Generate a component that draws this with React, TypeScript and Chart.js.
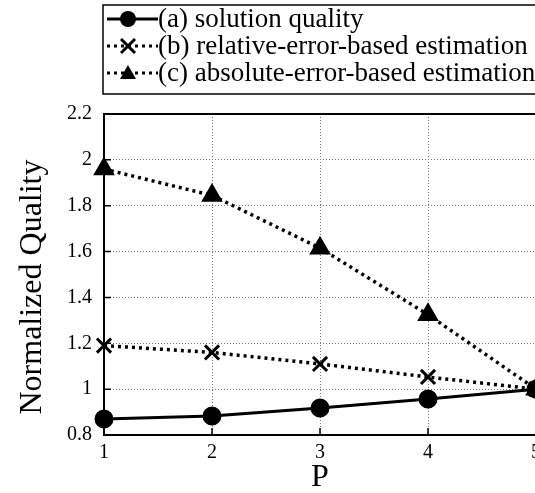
import React, { useEffect, useRef } from "react";
import { Chart, registerables } from "chart.js";

Chart.register(...registerables);

const pValues = [1, 2, 3, 4, 5];
const solutionQuality = [0.87, 0.883, 0.918, 0.957, 1.0];
const relativeEstimation = [1.19, 1.16, 1.11, 1.053, 1.0];
const absoluteEstimation = [1.96, 1.845, 1.615, 1.325, 1.0];
const legendLabels = [
  "(a) solution quality",
  "(b) relative-error-based estimation",
  "(c) absolute-error-based estimation",
];
const yTicks = [0.8, 1, 1.2, 1.4, 1.6, 1.8, 2, 2.2];
const yTitle = "Normalized Quality";
const xTitle = "P";

const FONT = "'Liberation Serif', 'Times New Roman', serif";

function drawMarker(ctx: CanvasRenderingContext2D, style: string, x: number, y: number, r: number) {
  ctx.save();
  ctx.fillStyle = "#000";
  ctx.strokeStyle = "#000";
  if (style === "circle") {
    ctx.beginPath();
    ctx.arc(x, y, r, 0, Math.PI * 2);
    ctx.fill();
  } else if (style === "crossRot") {
    ctx.lineWidth = 3;
    ctx.beginPath();
    ctx.moveTo(x - r, y - r);
    ctx.lineTo(x + r, y + r);
    ctx.moveTo(x + r, y - r);
    ctx.lineTo(x - r, y + r);
    ctx.stroke();
  } else if (style === "triangle") {
    ctx.beginPath();
    ctx.moveTo(x, y - r);
    ctx.lineTo(x + r, y + r * 0.75);
    ctx.lineTo(x - r, y + r * 0.75);
    ctx.closePath();
    ctx.fill();
  }
  ctx.restore();
}

const framePlugin = {
  id: "frame",
  afterDraw(chart: any) {
    const { ctx, chartArea } = chart;
    const { left, right, top, bottom } = chartArea;
    ctx.save();
    ctx.strokeStyle = "#000";
    ctx.lineWidth = 2;
    ctx.strokeRect(left, top, right - left, bottom - top);
    const ys = chart.scales.y;
    const xs = chart.scales.x;
    ctx.lineWidth = 1.5;
    ctx.beginPath();
    yTicks.forEach((v) => {
      const py = ys.getPixelForValue(v);
      ctx.moveTo(left, py);
      ctx.lineTo(left + 7, py);
    });
    pValues.forEach((v) => {
      const px = xs.getPixelForValue(v);
      ctx.moveTo(px, bottom);
      ctx.lineTo(px, bottom - 7);
    });
    ctx.stroke();

    // axis titles
    ctx.fillStyle = "#000";
    ctx.font = `32px ${FONT}`;
    ctx.textAlign = "center";
    ctx.textBaseline = "middle";
    ctx.save();
    ctx.translate(33, 287);
    ctx.rotate(-Math.PI / 2);
    ctx.fillText(yTitle, 0, 0);
    ctx.restore();
    ctx.fillText(xTitle, (left + right) / 2, 478);

    // legend box
    const bx = 103, by = 5, bw = 480, bh = 89;
    ctx.lineWidth = 1.5;
    ctx.strokeRect(bx, by, bw, bh);
    const rows = [19, 46, 73];
    const styles = ["circle", "crossRot", "triangle"];
    const sizes = [8, 7, 8];
    ctx.font = `27px ${FONT}`;
    ctx.textBaseline = "middle";
    ctx.textAlign = "left";
    rows.forEach((ry, i) => {
      ctx.save();
      ctx.lineWidth = 3;
      ctx.strokeStyle = "#000";
      if (i > 0) ctx.setLineDash([3, 4]);
      ctx.beginPath();
      ctx.moveTo(107, ry);
      ctx.lineTo(158, ry);
      ctx.stroke();
      ctx.restore();
      drawMarker(ctx, styles[i], 128, ry, sizes[i]);
      ctx.fillStyle = "#000";
      ctx.fillText(legendLabels[i], 158, ry + 1);
    });
    ctx.restore();
  },
};

export default function App() {
  const ref = useRef<HTMLCanvasElement | null>(null);
  useEffect(() => {
    document.body.style.margin = "0";
    document.body.style.overflow = "hidden";
    const chart = new Chart(ref.current!, {
      type: "line",
      data: {
        datasets: [
          {
            label: legendLabels[0],
            data: pValues.map((p, i) => ({ x: p, y: solutionQuality[i] })),
            borderColor: "#000",
            backgroundColor: "#000",
            borderWidth: 3,
            pointStyle: "circle",
            pointRadius: 8,
            pointBackgroundColor: "#000",
            clip: false,
          },
          {
            label: legendLabels[1],
            data: pValues.map((p, i) => ({ x: p, y: relativeEstimation[i] })),
            borderColor: "#000",
            backgroundColor: "#000",
            borderWidth: 3.5,
            borderDash: [3, 4],
            pointStyle: "crossRot",
            pointRadius: 10,
            pointBorderWidth: 3,
            clip: false,
          },
          {
            label: legendLabels[2],
            data: pValues.map((p, i) => ({ x: p, y: absoluteEstimation[i] })),
            borderColor: "#000",
            backgroundColor: "#000",
            borderWidth: 3.5,
            borderDash: [3, 4],
            pointStyle: "triangle",
            pointRadius: 9,
            pointBackgroundColor: "#000",
            clip: false,
          },
        ],
      },
      options: {
        animation: false,
        responsive: false,
        maintainAspectRatio: false,
        layout: { padding: { top: 114, right: 64, left: 0, bottom: 0 } },
        plugins: { legend: { display: false }, tooltip: { enabled: false } },
        scales: {
          x: {
            type: "linear",
            min: 1,
            max: 5,
            afterFit: (s: any) => { s.height = 58; },
            afterBuildTicks: (s: any) => { s.ticks = pValues.map((v) => ({ value: v })); },
            grid: { color: "#777", lineWidth: 1, drawTicks: false },
            border: { display: false, dash: [1, 2] },
            ticks: { color: "#000", padding: 6, font: { family: FONT, size: 20 }, maxRotation: 0 },
            title: { display: false },
          },
          y: {
            type: "linear",
            min: 0.8,
            max: 2.2,
            afterFit: (s: any) => { s.width = 104; },
            afterBuildTicks: (s: any) => { s.ticks = yTicks.map((v) => ({ value: v })); },
            grid: { color: "#777", lineWidth: 1, drawTicks: false },
            border: { display: false, dash: [1, 2] },
            ticks: {
              color: "#000",
              padding: 12,
              font: { family: FONT, size: 20 },
              callback: (v: any) => String(Math.round(Number(v) * 10) / 10),
            },
            title: { display: false },
          },
        },
      },
      plugins: [framePlugin],
    } as any);
    return () => chart.destroy();
  }, []);
  return (
    <div style={{ position: "absolute", left: 0, top: 0, width: 535, height: 493, overflow: "hidden" }}>
      <canvas ref={ref} width={600} height={493} style={{ width: 600, height: 493, display: "block" }} />
    </div>
  );
}
